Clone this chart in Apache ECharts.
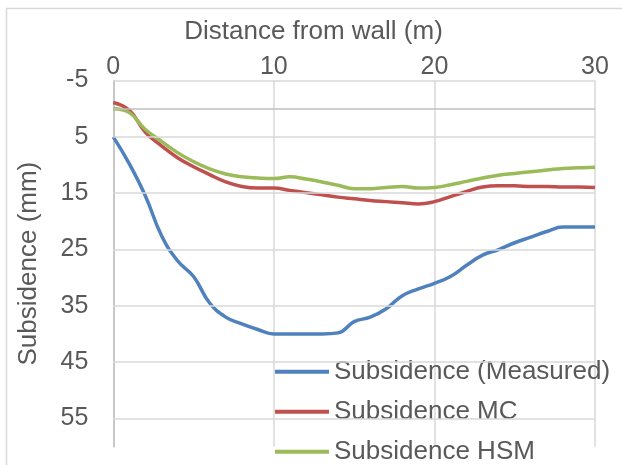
<!DOCTYPE html>
<html>
<head>
<meta charset="utf-8">
<script src="https://cdn.jsdelivr.net/npm/echarts@6/dist/echarts.min.js"></script>
<style>
  html, body { margin: 0; padding: 0; background: #fff; }
  #chart { width: 622px; height: 465px; }
</style>
</head>
<body>
<div id="chart"></div>
<script>
// Distance from the wall (m)
const distance = [0, 1, 2, 3, 4, 5, 6, 7, 8, 9, 10, 11, 12, 13, 14, 15,
  16, 17, 18, 19, 20, 21, 22, 23, 24, 25, 26, 27, 28, 29, 30];

// Subsidence (mm) at each distance
const measured = [5, 9.8, 15.5, 22.5, 27, 29.8, 34.5, 37, 38.2, 39.2, 40, 40, 40, 40, 39.8, 37.8,
  37, 35.5, 33.2, 32, 31, 29.8, 27.8, 26, 25, 23.8, 22.8, 21.8, 21, 21, 21];
const mc = [-1.1, 0.3, 4.2, 6.6, 8.7, 10.3, 11.7, 13, 13.8, 14.1, 14.1, 14.5, 14.9, 15.3, 15.7, 16,
  16.3, 16.5, 16.7, 16.9, 16.5, 15.6, 14.7, 13.9, 13.7, 13.7, 13.8, 13.8, 13.9, 13.9, 14];
const hsm = [0, 0.7, 3.7, 5.8, 7.8, 9.4, 10.7, 11.6, 12.1, 12.3, 12.4, 12.1, 12.5, 13, 13.6, 14.2,
  14.2, 14, 13.8, 14.1, 14, 13.5, 12.9, 12.3, 11.8, 11.5, 11.2, 10.9, 10.6, 10.5, 10.4];

const seriesNames = ['Subsidence (Measured)', 'Subsidence MC', 'Subsidence HSM'];
const seriesColors = ['#4F81BD', '#C0504D', '#9BBB59'];

// Labelled subsidence values (also where the horizontal gridlines sit)
const yTickValues = [-5, 5, 15, 25, 35, 45, 55];
const xTickValues = [0, 10, 20, 30];

const textColor = '#595959';
const fontFamily = "'Liberation Sans', Arial, sans-serif";

const pairs = (ys) => distance.map((d, i) => [d, ys[i]]);

const chart = echarts.init(document.getElementById('chart'), null, { renderer: 'canvas' });

const lineSeries = [measured, mc, hsm].map((ys, i) => ({
  name: seriesNames[i],
  type: 'line',
  data: pairs(ys),
  smooth: 0.45,
  showSymbol: false,
  symbol: 'none',
  lineStyle: { color: seriesColors[i], width: 3.5 },
  itemStyle: { color: seriesColors[i] },
  z: 3
}));

// Gridlines at the labelled values plus the horizontal axis line at zero
const gridSeries = {
  name: 'grid',
  type: 'line',
  data: [],
  silent: true,
  z: 1,
  markLine: {
    silent: true,
    symbol: 'none',
    label: { show: false },
    animation: false,
    data: yTickValues.map(v => ({ yAxis: v, lineStyle: { color: '#D9D9D9', width: 1.5, type: 'solid' } }))
      .concat([{ yAxis: 0, lineStyle: { color: '#BFBFBF', width: 1.5, type: 'solid' } }])
  }
};

chart.setOption({
  animation: false,
  backgroundColor: '#ffffff',
  textStyle: { fontFamily: fontFamily },
  grid: { left: 113.3, right: 27, top: 80.5, bottom: 18.3, containLabel: false, outerBoundsMode: 'none' },
  xAxis: {
    type: 'value',
    position: 'top',
    min: 0, max: 30, interval: 10,
    axisLine: { show: false },
    axisTick: { show: false },
    axisLabel: {
      color: textColor, fontSize: 25, fontFamily: fontFamily, margin: 1,
      formatter: v => (xTickValues.includes(v) ? String(v) : '')
    },
    splitLine: { show: true, lineStyle: { color: '#D9D9D9', width: 1.5 } }
  },
  yAxis: {
    type: 'value',
    inverse: true,
    min: -5, max: 60, interval: 5,
    name: 'Subsidence (mm)',
    nameLocation: 'middle',
    nameRotate: 90,
    nameGap: 71,
    nameTextStyle: { color: textColor, fontSize: 26, fontFamily: fontFamily },
    axisLine: { show: true, onZero: false, lineStyle: { color: '#BFBFBF', width: 1.5 } },
    axisTick: { show: false },
    axisLabel: {
      color: textColor, fontSize: 25, fontFamily: fontFamily, margin: 25,
      formatter: v => (yTickValues.includes(v) ? String(v) : '')
    },
    splitLine: { show: false }
  },
  legend: {
    data: seriesNames,
    orient: 'vertical',
    left: 275,
    top: 358.7,
    padding: 0,
    itemGap: 14,
    icon: 'rect',
    itemWidth: 54,
    itemHeight: 4,
    textStyle: { color: textColor, fontSize: 26, fontFamily: fontFamily, lineHeight: 26 }
  },
  graphic: [
    {
      type: 'rect',
      silent: true,
      shape: { x: 6.5, y: 8.5, width: 700, height: 600 },
      style: { fill: 'none', stroke: '#D9D9D9', lineWidth: 1.5 },
      z: -1
    },
    {
      type: 'text',
      silent: true,
      x: 313.5,
      y: 31.5,
      style: {
        text: 'Distance from wall (m)',
        fill: textColor,
        font: "26px 'Liberation Sans', Arial, sans-serif",
        align: 'center',
        verticalAlign: 'middle'
      }
    }
  ],
  series: [gridSeries].concat(lineSeries)
});
</script>
</body>
</html>
